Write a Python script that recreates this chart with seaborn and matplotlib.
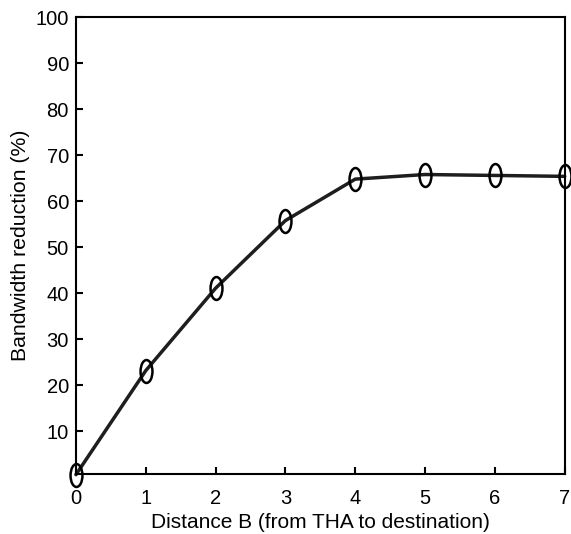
import numpy as np
import pandas as pd
import matplotlib
matplotlib.use("Agg")
import matplotlib.pyplot as plt
from matplotlib.path import Path
import seaborn as sns

# Veriler
distance = [0, 1, 2, 3, 4, 5, 6, 7]
reduction = [0.6, 23.2, 41.1, 55.8, 64.8, 65.8, 65.6, 65.4]
y_ticks = [10, 20, 30, 40, 50, 60, 70, 80, 90, 100]

df = pd.DataFrame({'Distance': distance, 'Reduction': reduction})

sns.set_style('white')
plt.rcParams['font.family'] = ['Liberation Sans', 'DejaVu Sans']
plt.rcParams['text.color'] = 'black'
plt.rcParams['axes.labelcolor'] = 'black'
plt.rcParams['xtick.color'] = 'black'
plt.rcParams['ytick.color'] = 'black'

# dikey elips marker
circ = Path.unit_circle()
ellipse = Path(circ.vertices * np.array([0.52, 1.0]), circ.codes)

fig = plt.figure(figsize=(5.71, 5.34), dpi=100)
ax = fig.add_axes([0.133, 0.112, 0.856, 0.856])

sns.lineplot(data=df, x='Distance', y='Reduction', ax=ax, color='#1e1e1e',
             linewidth=2.5, marker=ellipse, markersize=16.5,
             markerfacecolor='none', markeredgecolor='black',
             markeredgewidth=1.8, clip_on=False)

ax.set_xlim(0, 7)
ax.set_ylim(0.7, 100)
ax.set_xticks(distance)
ax.set_yticks(y_ticks)
ax.tick_params(direction='in', length=5, width=1.5, labelsize=14.5,
               top=False, right=False, left=True, bottom=True)
ax.tick_params(axis='x', pad=11)
ax.tick_params(axis='y', pad=5)
for s in ax.spines.values():
    s.set_linewidth(1.5)
    s.set_color('black')

ax.set_xlabel('Distance B (from THA to destination)', fontsize=15, labelpad=3)
ax.set_ylabel('Bandwidth reduction (%)', fontsize=15.3, labelpad=4)

plt.savefig('out.png', dpi=100)
